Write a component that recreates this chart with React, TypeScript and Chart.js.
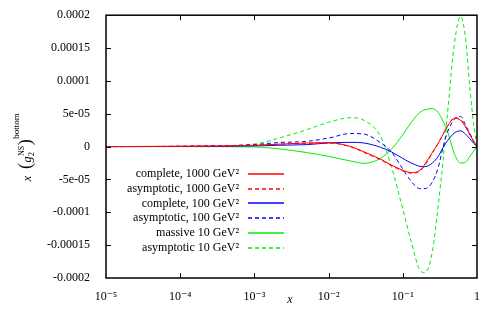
import React, { useEffect, useRef } from "react";
import { Chart, registerables } from "chart.js";

Chart.register(...registerables);

const FONT = "'Liberation Serif', 'DejaVu Serif', serif";

// x positions (momentum fraction) at which values were read
const xValues = [1e-5, 1e-4, 1e-3, 0.002, 0.005, 0.01, 0.02, 0.03, 0.05, 0.07, 0.1, 0.13, 0.17, 0.2, 0.25, 0.3, 0.35, 0.4, 0.5, 0.6, 0.7, 0.8, 0.9, 1];

const complete1000 = [0, 0.05e-5, 0.2e-5, 0.35e-5, 0.55e-5, 0.6e-5, 0.0e-5, -0.8e-5, -1.9e-5, -2.8e-5, -3.6e-5, -3.95e-5, -3.6e-5, -2.6e-5, -0.9e-5, 0.5e-5, 1.9e-5, 3.1e-5, 4.3e-5, 4.0e-5, 3.0e-5, 1.8e-5, 0.8e-5, 0];
const asymptotic1000 = [0, 0.05e-5, 0.2e-5, 0.35e-5, 0.5e-5, 0.55e-5, -0.05e-5, -0.9e-5, -2.0e-5, -2.9e-5, -3.7e-5, -4.05e-5, -3.75e-5, -2.8e-5, -1.0e-5, 0.5e-5, 1.9e-5, 3.1e-5, 4.4e-5, 4.1e-5, 3.1e-5, 1.9e-5, 0.8e-5, 0];
const complete100 = [0, 0.02e-5, 0.1e-5, 0.2e-5, 0.3e-5, 0.55e-5, 0.65e-5, 0.55e-5, -0.1e-5, -0.8e-5, -1.8e-5, -2.5e-5, -3.0e-5, -3.05e-5, -2.5e-5, -1.5e-5, -0.1e-5, 0.9e-5, 2.1e-5, 2.4e-5, 1.9e-5, 1.2e-5, 0.5e-5, 0];
const asymptotic100 = [0, 0.05e-5, 0.3e-5, 0.6e-5, 0.8e-5, 1.3e-5, 2.0e-5, 1.9e-5, 0.6e-5, -0.8e-5, -3.4e-5, -5.3e-5, -6.4e-5, -6.4e-5, -5.4e-5, -3.2e-5, 0.0e-5, 2.2e-5, 4.2e-5, 4.6e-5, 3.3e-5, 2.0e-5, 0.9e-5, 0];
const massive10 = [0, 0, -0.05e-5, -0.3e-5, -0.9e-5, -1.5e-5, -2.2e-5, -2.55e-5, -1.8e-5, -0.4e-5, 1.8e-5, 3.7e-5, 5.2e-5, 5.6e-5, 5.8e-5, 5.2e-5, 3.8e-5, 2.3e-5, -1.2e-5, -2.5e-5, -2.4e-5, -1.5e-5, -0.7e-5, 0];
const asymptotic10 = [0, 0.02e-5, 0.4e-5, 1.2e-5, 2.55e-5, 3.7e-5, 4.4e-5, 4.0e-5, 1.6e-5, -3.0e-5, -9.5e-5, -14.5e-5, -18.8e-5, -19.2e-5, -16.0e-5, -9.0e-5, -2.0e-5, 5.0e-5, 16.0e-5, 19.8e-5, 16.5e-5, 9.0e-5, 3.5e-5, 0];

const seriesLabels = [
  "complete, 1000 GeV²",
  "asymptotic, 1000 GeV²",
  "complete, 100 GeV²",
  "asymptotic, 100 GeV²",
  "massive 10 GeV²",
  "asymptotic 10 GeV²",
];
const seriesValues = [complete1000, asymptotic1000, complete100, asymptotic100, massive10, asymptotic10];
const seriesColors = ["#ff0000", "#ff0000", "#0000ff", "#0000ff", "#00ee00", "#00ee00"];
const seriesDashed = [false, true, false, true, false, true];

const xTickValues = [1e-5, 1e-4, 1e-3, 1e-2, 1e-1, 1];
const xTickLabels = ["10⁻⁵", "10⁻⁴", "10⁻³", "10⁻²", "10⁻¹", "1"];
const yTickValues = [-0.0002, -0.00015, -0.0001, -0.00005, 0, 0.00005, 0.0001, 0.00015, 0.0002];
const yTickLabels = ["-0.0002", "-0.00015", "-0.0001", "-5e-05", "0", "5e-05", "0.0001", "0.00015", "0.0002"];

const DASH = [4, 3];

const framePlugin = {
  id: "frame",
  afterDatasetsDraw(chart: any) {
    const { ctx, chartArea: a, scales } = chart;
    ctx.save();
    ctx.strokeStyle = "#000";
    ctx.lineWidth = 1;
    ctx.setLineDash([]);
    ctx.beginPath();
    xTickValues.forEach((v, i) => {
      if (i === 0 || i === xTickValues.length - 1) return;
      const px = Math.round(scales.x.getPixelForValue(v)) + 0.5;
      ctx.moveTo(px, a.bottom);
      ctx.lineTo(px, a.bottom - 5);
      ctx.moveTo(px, a.top);
      ctx.lineTo(px, a.top + 5);
    });
    yTickValues.forEach((v, i) => {
      if (i === 0 || i === yTickValues.length - 1) return;
      const py = Math.round(scales.y.getPixelForValue(v)) + 0.5;
      ctx.moveTo(a.left, py);
      ctx.lineTo(a.left + 5, py);
      ctx.moveTo(a.right, py);
      ctx.lineTo(a.right - 5, py);
    });
    ctx.stroke();
    ctx.lineWidth = 1.5;
    ctx.strokeRect(a.left, a.top, a.right - a.left, a.bottom - a.top);
    ctx.restore();
  },
};

const legendPlugin = {
  id: "customLegend",
  afterDraw(chart: any) {
    const { ctx } = chart;
    ctx.save();
    ctx.font = `12px ${FONT}`;
    ctx.textAlign = "right";
    ctx.textBaseline = "middle";
    seriesLabels.forEach((label, i) => {
      const y = 174 + i * 14.7;
      ctx.fillStyle = "#000";
      ctx.fillText(label, 239, y);
    });
    ctx.lineWidth = 1.5;
    seriesLabels.forEach((_label, i) => {
      const y = Math.round(174 + i * 14.7);
      ctx.strokeStyle = seriesColors[i];
      ctx.setLineDash(seriesDashed[i] ? DASH : []);
      ctx.beginPath();
      ctx.moveTo(248, y);
      ctx.lineTo(284, y);
      ctx.stroke();
    });
    ctx.restore();
  },
};

const titlesPlugin = {
  id: "titles",
  afterDraw(chart: any) {
    const { ctx } = chart;
    ctx.save();
    ctx.fillStyle = "#000";
    // x title
    ctx.font = `italic 12px ${FONT}`;
    ctx.textAlign = "center";
    ctx.textBaseline = "alphabetic";
    ctx.fillText("x", 290, 303);
    // y title, rotated
    ctx.translate(31, 147);
    ctx.rotate(-Math.PI / 2);
    ctx.textAlign = "left";
    const pieces: { t: string; f: string; dy: number; adv?: boolean }[] = [
      { t: "x", f: `italic 12px ${FONT}`, dy: 0 },
      { t: "  ", f: `12px ${FONT}`, dy: 0 },
      { t: "(", f: `18px ${FONT}`, dy: 0 },
      { t: "g", f: `italic 12px ${FONT}`, dy: 0 },
      { t: "2", f: `8px ${FONT}`, dy: 3, adv: false },
      { t: "NS", f: `8px ${FONT}`, dy: -7 },
      { t: ")", f: `18px ${FONT}`, dy: 0 },
      { t: "bottom", f: `9px ${FONT}`, dy: -12 },
    ];
    let total = 0;
    pieces.forEach((p) => {
      ctx.font = p.f;
      if (p.adv !== false) total += ctx.measureText(p.t).width + 0.5;
    });
    let x = -total / 2;
    pieces.forEach((p) => {
      ctx.font = p.f;
      ctx.fillText(p.t, x, p.dy);
      if (p.adv !== false) x += ctx.measureText(p.t).width + 0.5;
    });
    ctx.restore();
  },
};

export default function App() {
  const ref = useRef<HTMLCanvasElement | null>(null);
  useEffect(() => {
    if (!ref.current) return;
    const chart = new Chart(ref.current, {
      type: "line",
      data: {
        datasets: seriesValues.map((vals, i) => ({
          label: seriesLabels[i],
          data: xValues.map((x, j) => ({ x, y: vals[j] })),
          borderColor: seriesColors[i],
          backgroundColor: seriesColors[i],
          borderWidth: 1,
          borderDash: seriesDashed[i] ? DASH : [],
          pointRadius: 0,
          cubicInterpolationMode: "monotone" as const,
          fill: false,
        })),
      },
      options: {
        animation: false,
        responsive: false,
        devicePixelRatio: 1,
        layout: { padding: { top: 15, right: 19, left: 0, bottom: 0 } },
        plugins: { legend: { display: false }, tooltip: { enabled: false } },
        scales: {
          x: {
            type: "logarithmic",
            min: 1e-5,
            max: 1,
            afterBuildTicks: (s: any) => {
              s.ticks = xTickValues.map((v) => ({ value: v }));
            },
            afterFit: (s: any) => {
              s.height = 41;
            },
            grid: { display: false },
            border: { display: false },
            ticks: {
              autoSkip: false,
              maxRotation: 0,
              padding: 4,
              color: "#000",
              font: { family: FONT, size: 12 },
              callback: (_v: any, i: number) => xTickLabels[i],
            },
          },
          y: {
            type: "linear",
            min: -0.0002,
            max: 0.0002,
            afterBuildTicks: (s: any) => {
              s.ticks = yTickValues.map((v) => ({ value: v }));
            },
            afterFit: (s: any) => {
              s.width = 106;
            },
            grid: { display: false },
            border: { display: false },
            ticks: {
              autoSkip: false,
              padding: 8,
              color: "#000",
              font: { family: FONT, size: 12 },
              callback: (_v: any, i: number) => yTickLabels[i],
            },
          },
        },
      },
      plugins: [framePlugin, legendPlugin, titlesPlugin],
    } as any);
    return () => chart.destroy();
  }, []);
  return (
    <div style={{ position: "absolute", left: 0, top: 0, width: 496, height: 319, background: "#fff" }}>
      <canvas ref={ref} width={496} height={319} />
    </div>
  );
}
